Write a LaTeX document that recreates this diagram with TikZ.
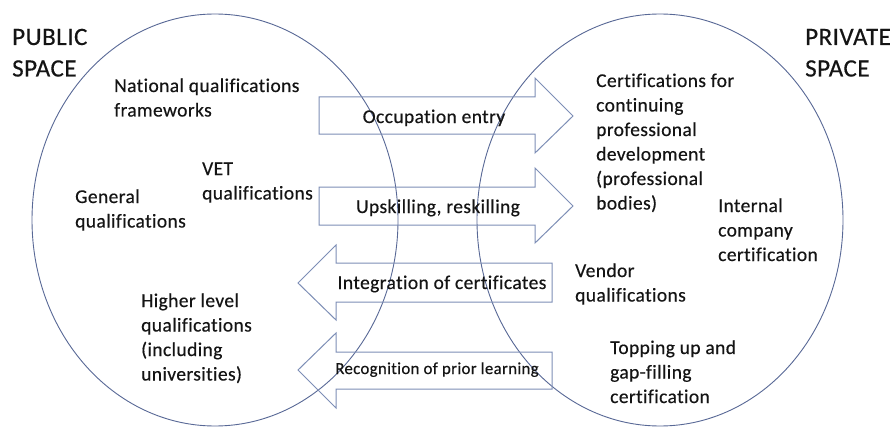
\documentclass[tikz,border=0pt]{standalone}
\usepackage{fontspec}
\setmainfont{Carlito}[Ligatures={NoCommon},LetterSpace=2,FakeBold=0.4]
\definecolor{ringcol}{RGB}{88,104,150}
\definecolor{arrowcol}{RGB}{125,142,182}
\definecolor{txtcol}{RGB}{20,20,20}
\begin{document}
\begin{tikzpicture}[x=1pt,y=-1pt,
  ring/.style={draw=ringcol,line width=0.9pt},
  blockarrow/.style={draw=arrowcol,line width=1pt,fill=none},
  lbl/.style={anchor=base west,inner sep=0pt,text=txtcol,font=\fontsize{19.5}{24.5}\selectfont},
  ttl/.style={anchor=base west,inner sep=0pt,text=txtcol,font=\fontsize{25}{31.5}\selectfont},
  albl/.style={anchor=base,inner sep=0pt,text=txtcol,font=\fontsize{19.5}{22}\selectfont}]
\useasboundingbox (0,0) rectangle (892,428);
\fill[white] (0,0) rectangle (892,428);
% ellipses
\draw[ring] (215,220) ellipse [x radius=183, y radius=206];
\draw[ring] (660,220) ellipse [x radius=183, y radius=206];
% right-pointing arrows
\draw[blockarrow] (319,97) -- (535,97) -- (535,78) -- (573,116) -- (535,153) -- (535,134) -- (319,134) -- cycle;
\draw[blockarrow] (319,187) -- (535,187) -- (535,168) -- (573,206) -- (535,243) -- (535,225) -- (319,225) -- cycle;
% left-pointing arrows
\draw[blockarrow] (552,263) -- (336,263) -- (336,245) -- (298,283) -- (336,320) -- (336,302) -- (552,302) -- cycle;
\draw[blockarrow] (552,352) -- (336,352) -- (336,333) -- (298,370) -- (336,408) -- (336,389) -- (552,389) -- cycle;
% arrow labels
\node[albl] (occ) at (434,123) {Occupation entry};
\node[albl] (ups) at (438,213) {Upskilling, reskilling};
\node[albl] (integ) at (442,289) {Integration of certificates};
\node[albl,font=\fontsize{16.8}{19}\selectfont] (rpl) at (437,374) {Recognition of prior learning};
% titles
\node[ttl] (pub) at (12,45) {\begin{tabular}[t]{@{}l@{}}PUBLIC\\SPACE\end{tabular}};
\node[ttl] (priv) at (805,45) {\begin{tabular}[t]{@{}l@{}}PRIVATE\\SPACE\end{tabular}};
% public texts
\node[lbl] (nqf) at (114,92) {\begin{tabular}[t]{@{}l@{}}National qualifications\\frameworks\end{tabular}};
\node[lbl] (vet) at (202,175) {\begin{tabular}[t]{@{}l@{}}VET\\qualifications\end{tabular}};
\node[lbl] (gen) at (75,203) {\begin{tabular}[t]{@{}l@{}}General\\qualifications\end{tabular}};
\node[lbl] (high) at (141,307) {\begin{tabular}[t]{@{}l@{}}Higher level\\qualifications\\(including\\universities)\end{tabular}};
% private texts
\node[lbl] (cpd) at (596,87) {\begin{tabular}[t]{@{}l@{}}Certifications for\\continuing\\professional\\development\\(professional\\bodies)\end{tabular}};
\node[lbl] (icc) at (718,212) {\begin{tabular}[t]{@{}l@{}}Internal\\company\\certification\end{tabular}};
\node[lbl] (vend) at (575,277) {\begin{tabular}[t]{@{}l@{}}Vendor\\qualifications\end{tabular}};
\node[lbl] (top) at (610,354) {\begin{tabular}[t]{@{}l@{}}Topping up and\\gap-filling\\certification\end{tabular}};
\end{tikzpicture}
\end{document}
